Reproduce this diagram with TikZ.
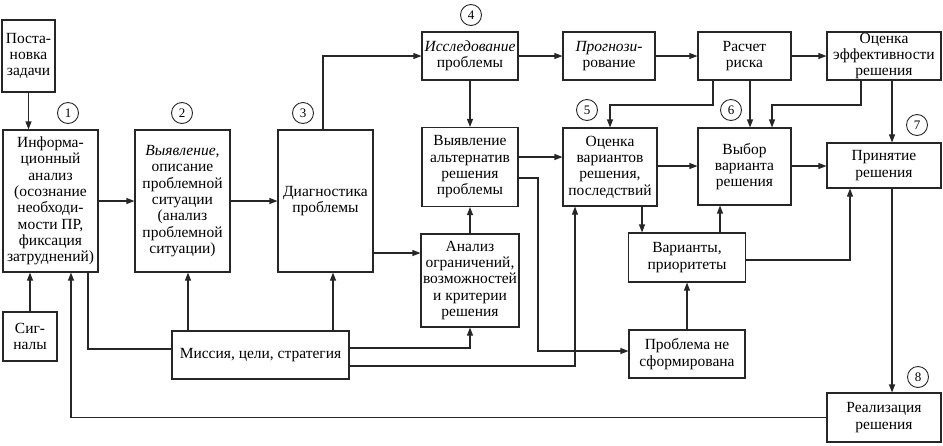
\documentclass[tikz,border=0pt]{standalone}
\usepackage{fontspec}
\setmainfont{Liberation Serif}
\usetikzlibrary{arrows.meta}

\begin{document}
\begin{tikzpicture}[x=1pt, y=-1pt, >={Triangle[length=8pt, width=6pt]},
    box/.style={draw=black!85, line width=1.1pt, align=center, inner xsep=0.5pt, inner ysep=0pt,
        font=\fontsize{15.5}{16.3}\selectfont},
    num/.style={draw=black!85, circle, line width=0.9pt, minimum size=21pt, inner sep=0pt,
        font=\fontsize{13}{13}\selectfont},
    link/.style={draw=black!85, line width=1.1pt}]
    \useasboundingbox (0,0) rectangle (943,445);

    % Left part: statement, information analysis, signals
    \node[box, minimum width=53, minimum height=72] (post) at (28.5, 56) {Поста-\\новка\\задачи};
    \node[box, minimum width=95, minimum height=142] (info) at (50.5, 201) {Информа-\\ционный\\анализ\\(осознание\\необходи-\\мости ПР,\\фиксация\\затруднений)};
    \node[box, minimum width=54, minimum height=49] (sig) at (30, 336.5) {Сиг-\\налы};
    \node[box, minimum width=95, minimum height=142] (situ) at (182.5, 201) {\textit{Выявление,}\\описание\\проблемной\\ситуации\\(анализ\\проблемной\\ситуации)};
    \node[box, minimum width=95, minimum height=142] (diag) at (325.5, 201) {Диагностика\\проблемы};
    \node[box, minimum width=177, minimum height=48] (miss) at (260.5, 355) {Миссия, цели, стратегия};

    % Top row
    \node[box, minimum width=96, minimum height=48] (issl) at (470, 56) {\textit{Исследование}\\проблемы};
    \node[box, minimum width=92, minimum height=48] (prog) at (609, 56) {\textit{Прогнози-}\\рование};
    \node[box, minimum width=93, minimum height=48] (risk) at (744.5, 56) {Расчет\\риска};
    \node[box, minimum width=114, minimum height=48] (eff) at (884, 56) {Оценка\\эффективности\\решения};

    % Middle row
    \node[box, minimum width=96, minimum height=79] (alt) at (470, 167) {Выявление\\альтернатив\\решения\\проблемы};
    \node[box, minimum width=94, minimum height=78] (ocen) at (610, 167) {Оценка\\вариантов\\решения,\\последствий};
    \node[box, minimum width=93, minimum height=77] (vybor) at (744.5, 166.5) {Выбор\\варианта\\решения};
    \node[box, minimum width=114, minimum height=45] (prin) at (884, 165.5) {Принятие\\решения};

    % Lower part
    \node[box, minimum width=98, minimum height=93] (anal) at (470, 280.5) {Анализ\\ограничений,\\возможностей\\и критерии\\решения};
    \node[box, minimum width=117, minimum height=49] (var) at (687, 257.5) {Варианты,\\приоритеты};
    \node[box, minimum width=116, minimum height=48] (probl) at (687, 354) {Проблема не\\сформирована};
    \node[box, minimum width=114, minimum height=49] (real) at (884, 417.5) {Реализация\\решения};

    % Stage numbers
    \foreach \n/\x/\y in {1/68/113, 2/182/113, 3/303/113, 4/471/15, 5/587/110, 6/731/110, 7/917/125, 8/918/377}
        \node[num] (c\n) at (\x, \y) {\n};

    % Main chain
    \draw[link, ->] (post) -- (info.north -| post);
    \draw[link, ->] (sig) -- (info.south -| sig);
    \draw[link, ->] (info) -- (situ);
    \draw[link, ->] (situ) -- (diag);
    \draw[link, ->] (diag.north -| 323,0) |- (issl);
    \draw[link, ->] (diag.east |- 0,253) -- (anal.west |- 0,253);
    \draw[link, ->] (issl) -- (prog);
    \draw[link, ->] (prog) -- (risk);
    \draw[link, ->] (risk) -- (eff);
    \draw[link, ->] (issl) -- (alt);
    \draw[link, ->] (anal) -- (alt);
    \draw[link, ->] (alt.east |- 0,157) -- (ocen.west |- 0,157);
    \draw[link, ->] (ocen.east |- 0,166) -- (vybor.west |- 0,166);
    \draw[link, ->] (vybor.east |- 0,166) -- (prin.west |- 0,166);

    % Risk and efficiency feed the choice
    \draw[link, ->] (risk.south -| 713,0) -- (713,105) -| (ocen.north);
    \draw[link, ->] (risk.south -| 750,0) -- (vybor.north -| 750,0);
    \draw[link, ->] (eff.south -| 861,0) -- (861,105) -| (vybor.north -| 772,0);
    \draw[link, ->] (eff.south -| 892,0) -- (prin.north -| 892,0);

    % Variants and unformed problem
    \draw[link, ->] (alt.east |- 0,178) -| (538,351) -- (probl.west |- 0,351);
    \draw[link, ->] (ocen.south -| 642,0) -- (var.north -| 642,0);
    \draw[link, ->] (var.north -| 720,0) -- (vybor.south -| 720,0);
    \draw[link, ->] (probl) -- (var);
    \draw[link, ->] (var.east |- 0,260) -| (prin.south -| 850,0);

    % Mission, goals, strategy
    \draw[link] (info.south -| 88,0) |- (miss.west |- 0,349);
    \draw[link, ->] (miss.north -| 188,0) -- (situ.south -| 188,0);
    \draw[link, ->] (miss.north -| 333,0) -- (diag.south -| 333,0);
    \draw[link, ->] (miss.east |- 0,348) -| (anal.south);
    \draw[link, ->] (miss.east |- 0,366) -| (ocen.south -| 575,0);

    % Implementation and feedback
    \draw[link, ->] (prin.south -| 892,0) -- (real.north -| 892,0);
    \draw[link, ->] (real.west) -| (info.south -| 71,0);
\end{tikzpicture}
\end{document}
